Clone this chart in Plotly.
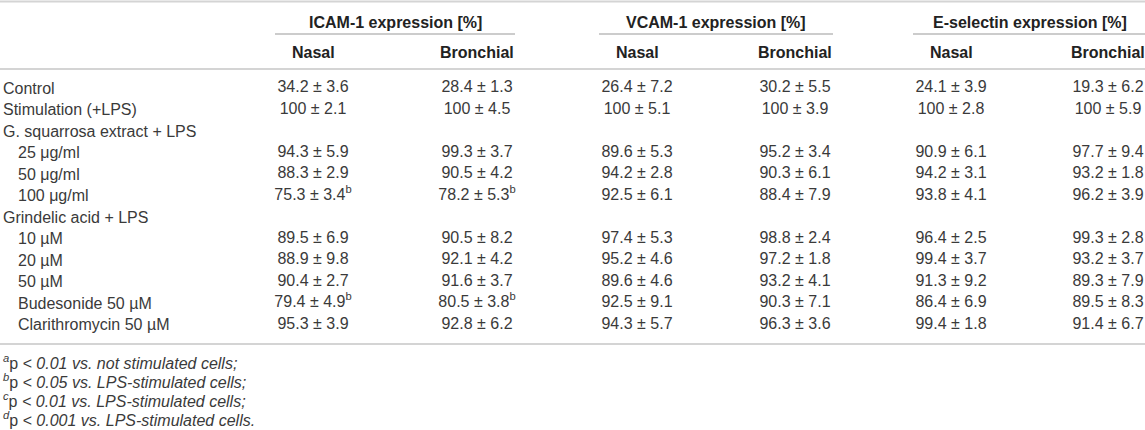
import plotly.graph_objects as go

# Row labels (indented rows are the doses / treatments inside a group)
row_labels = ["Control", "Stimulation (+LPS)", "G. squarrosa extract + LPS",
              "25 μg/ml", "50 μg/ml", "100 μg/ml", "Grindelic acid + LPS",
              "10 µM", "20 µM", "50 µM", "Budesonide 50 µM", "Clarithromycin 50 µM"]
row_indent = [0, 0, 0, 1, 1, 1, 0, 1, 1, 1, 1, 1]

groups = ["ICAM-1 expression [%]", "VCAM-1 expression [%]", "E-selectin expression [%]"]
subcols = ["Nasal", "Bronchial"]

# mean, sd and significance mark per column (None = group heading row)
icam_nasal_mean = [34.2, 100, None, 94.3, 88.3, 75.3, None, 89.5, 88.9, 90.4, 79.4, 95.3]
icam_nasal_sd = [3.6, 2.1, None, 5.9, 2.9, 3.4, None, 6.9, 9.8, 2.7, 4.9, 3.9]
icam_nasal_sig = ["", "", "", "", "", "b", "", "", "", "", "b", ""]

icam_bronch_mean = [28.4, 100, None, 99.3, 90.5, 78.2, None, 90.5, 92.1, 91.6, 80.5, 92.8]
icam_bronch_sd = [1.3, 4.5, None, 3.7, 4.2, 5.3, None, 8.2, 4.2, 3.7, 3.8, 6.2]
icam_bronch_sig = ["", "", "", "", "", "b", "", "", "", "", "b", ""]

vcam_nasal_mean = [26.4, 100, None, 89.6, 94.2, 92.5, None, 97.4, 95.2, 89.6, 92.5, 94.3]
vcam_nasal_sd = [7.2, 5.1, None, 5.3, 2.8, 6.1, None, 5.3, 4.6, 4.6, 9.1, 5.7]

vcam_bronch_mean = [30.2, 100, None, 95.2, 90.3, 88.4, None, 98.8, 97.2, 93.2, 90.3, 96.3]
vcam_bronch_sd = [5.5, 3.9, None, 3.4, 6.1, 7.9, None, 2.4, 1.8, 4.1, 7.1, 3.6]

esel_nasal_mean = [24.1, 100, None, 90.9, 94.2, 93.8, None, 96.4, 99.4, 91.3, 86.4, 99.4]
esel_nasal_sd = [3.9, 2.8, None, 6.1, 3.1, 4.1, None, 2.5, 3.7, 9.2, 6.9, 1.8]

esel_bronch_mean = [19.3, 100, None, 97.7, 93.2, 96.2, None, 99.3, 93.2, 89.3, 89.5, 91.4]
esel_bronch_sd = [6.2, 5.9, None, 9.4, 1.8, 3.9, None, 2.8, 3.7, 7.9, 8.3, 6.7]

no_sig = [""] * len(row_labels)

footnote_marks = ["a", "b", "c", "d"]
footnote_texts = ["< 0.01 vs. not stimulated cells;",
                  "< 0.05 vs. LPS-stimulated cells;",
                  "< 0.01 vs. LPS-stimulated cells;",
                  "< 0.001 vs. LPS-stimulated cells."]

columns = [
    (icam_nasal_mean, icam_nasal_sd, icam_nasal_sig),
    (icam_bronch_mean, icam_bronch_sd, icam_bronch_sig),
    (vcam_nasal_mean, vcam_nasal_sd, no_sig),
    (vcam_bronch_mean, vcam_bronch_sd, no_sig),
    (esel_nasal_mean, esel_nasal_sd, no_sig),
    (esel_bronch_mean, esel_bronch_sd, no_sig),
]

# layout (pixel-like coordinates on hidden axes)
W, H = 1145, 430
col_x = [313, 477, 637, 795, 951, 1108]
row_y0, row_step = 88, 21.5
row_y = [row_y0 + i * row_step for i in range(len(row_labels))]
foot_y0, foot_step = 362, 19
FONT = "Liberation Sans, Arial, sans-serif"
FS = 16
TXT = "#3a3a3a"
HEAD = "#222222"
RULE = "#d4d4d4"

fig = go.Figure()

# data cells
for (means, sds, sigs), x in zip(columns, col_x):
    xs, ys, texts = [], [], []
    for m, s, sig, y in zip(means, sds, sigs, row_y):
        if m is None:
            continue
        t = f"{m:g} ± {s:.1f}"
        if sig:
            t += f"<sup>{sig}</sup>"
        xs.append(x)
        ys.append(y)
        texts.append(t)
    fig.add_trace(go.Scatter(x=xs, y=ys, text=texts, mode="text",
                             textposition="middle center",
                             textfont=dict(family=FONT, size=FS, color=TXT),
                             hoverinfo="skip"))

# row labels
for lab, ind, y in zip(row_labels, row_indent, row_y):
    fig.add_annotation(x=1 + 15 * ind, y=y, text=lab, xanchor="left", yanchor="middle",
                       showarrow=False, font=dict(family=FONT, size=FS, color=TXT))

# group headers and sub headers
for g, name in enumerate(groups):
    x1, x2 = col_x[2 * g], col_x[2 * g + 1]
    fig.add_annotation(x=(x1 + x2) / 2, y=22, text=f"<b>{name}</b>", showarrow=False,
                       font=dict(family=FONT, size=FS, color=HEAD))
    right = W if g == len(groups) - 1 else x2 + 38
    fig.add_shape(type="line", x0=x1 - 38, x1=right, y0=34, y1=34,
                  line=dict(color="#999999", width=1.2))
    for k, sub in enumerate(subcols):
        fig.add_annotation(x=col_x[2 * g + k], y=52, text=f"<b>{sub}</b>", showarrow=False,
                           font=dict(family=FONT, size=FS, color=HEAD))

# horizontal rules
for y in [1.5, 69, 344]:
    fig.add_shape(type="line", x0=0, x1=W, y0=y, y1=y, line=dict(color=RULE, width=2))

# footnotes
for i, (mk, ft) in enumerate(zip(footnote_marks, footnote_texts)):
    fig.add_annotation(x=1, y=foot_y0 + i * foot_step,
                       text=f"<sup><i>{mk}</i></sup>p <i>{ft.replace('<', '&lt;')}</i>",
                       xanchor="left", yanchor="middle", showarrow=False,
                       font=dict(family=FONT, size=FS, color=TXT))

fig.update_layout(
    width=W, height=H,
    margin=dict(l=0, r=0, t=0, b=0),
    paper_bgcolor="white", plot_bgcolor="white",
    showlegend=False,
    xaxis=dict(range=[0, W], visible=False, fixedrange=True),
    yaxis=dict(range=[H, 0], visible=False, fixedrange=True),
)

fig.write_html("out.html", config={"displayModeBar": False},
               post_script="document.body.style.margin='0';")
